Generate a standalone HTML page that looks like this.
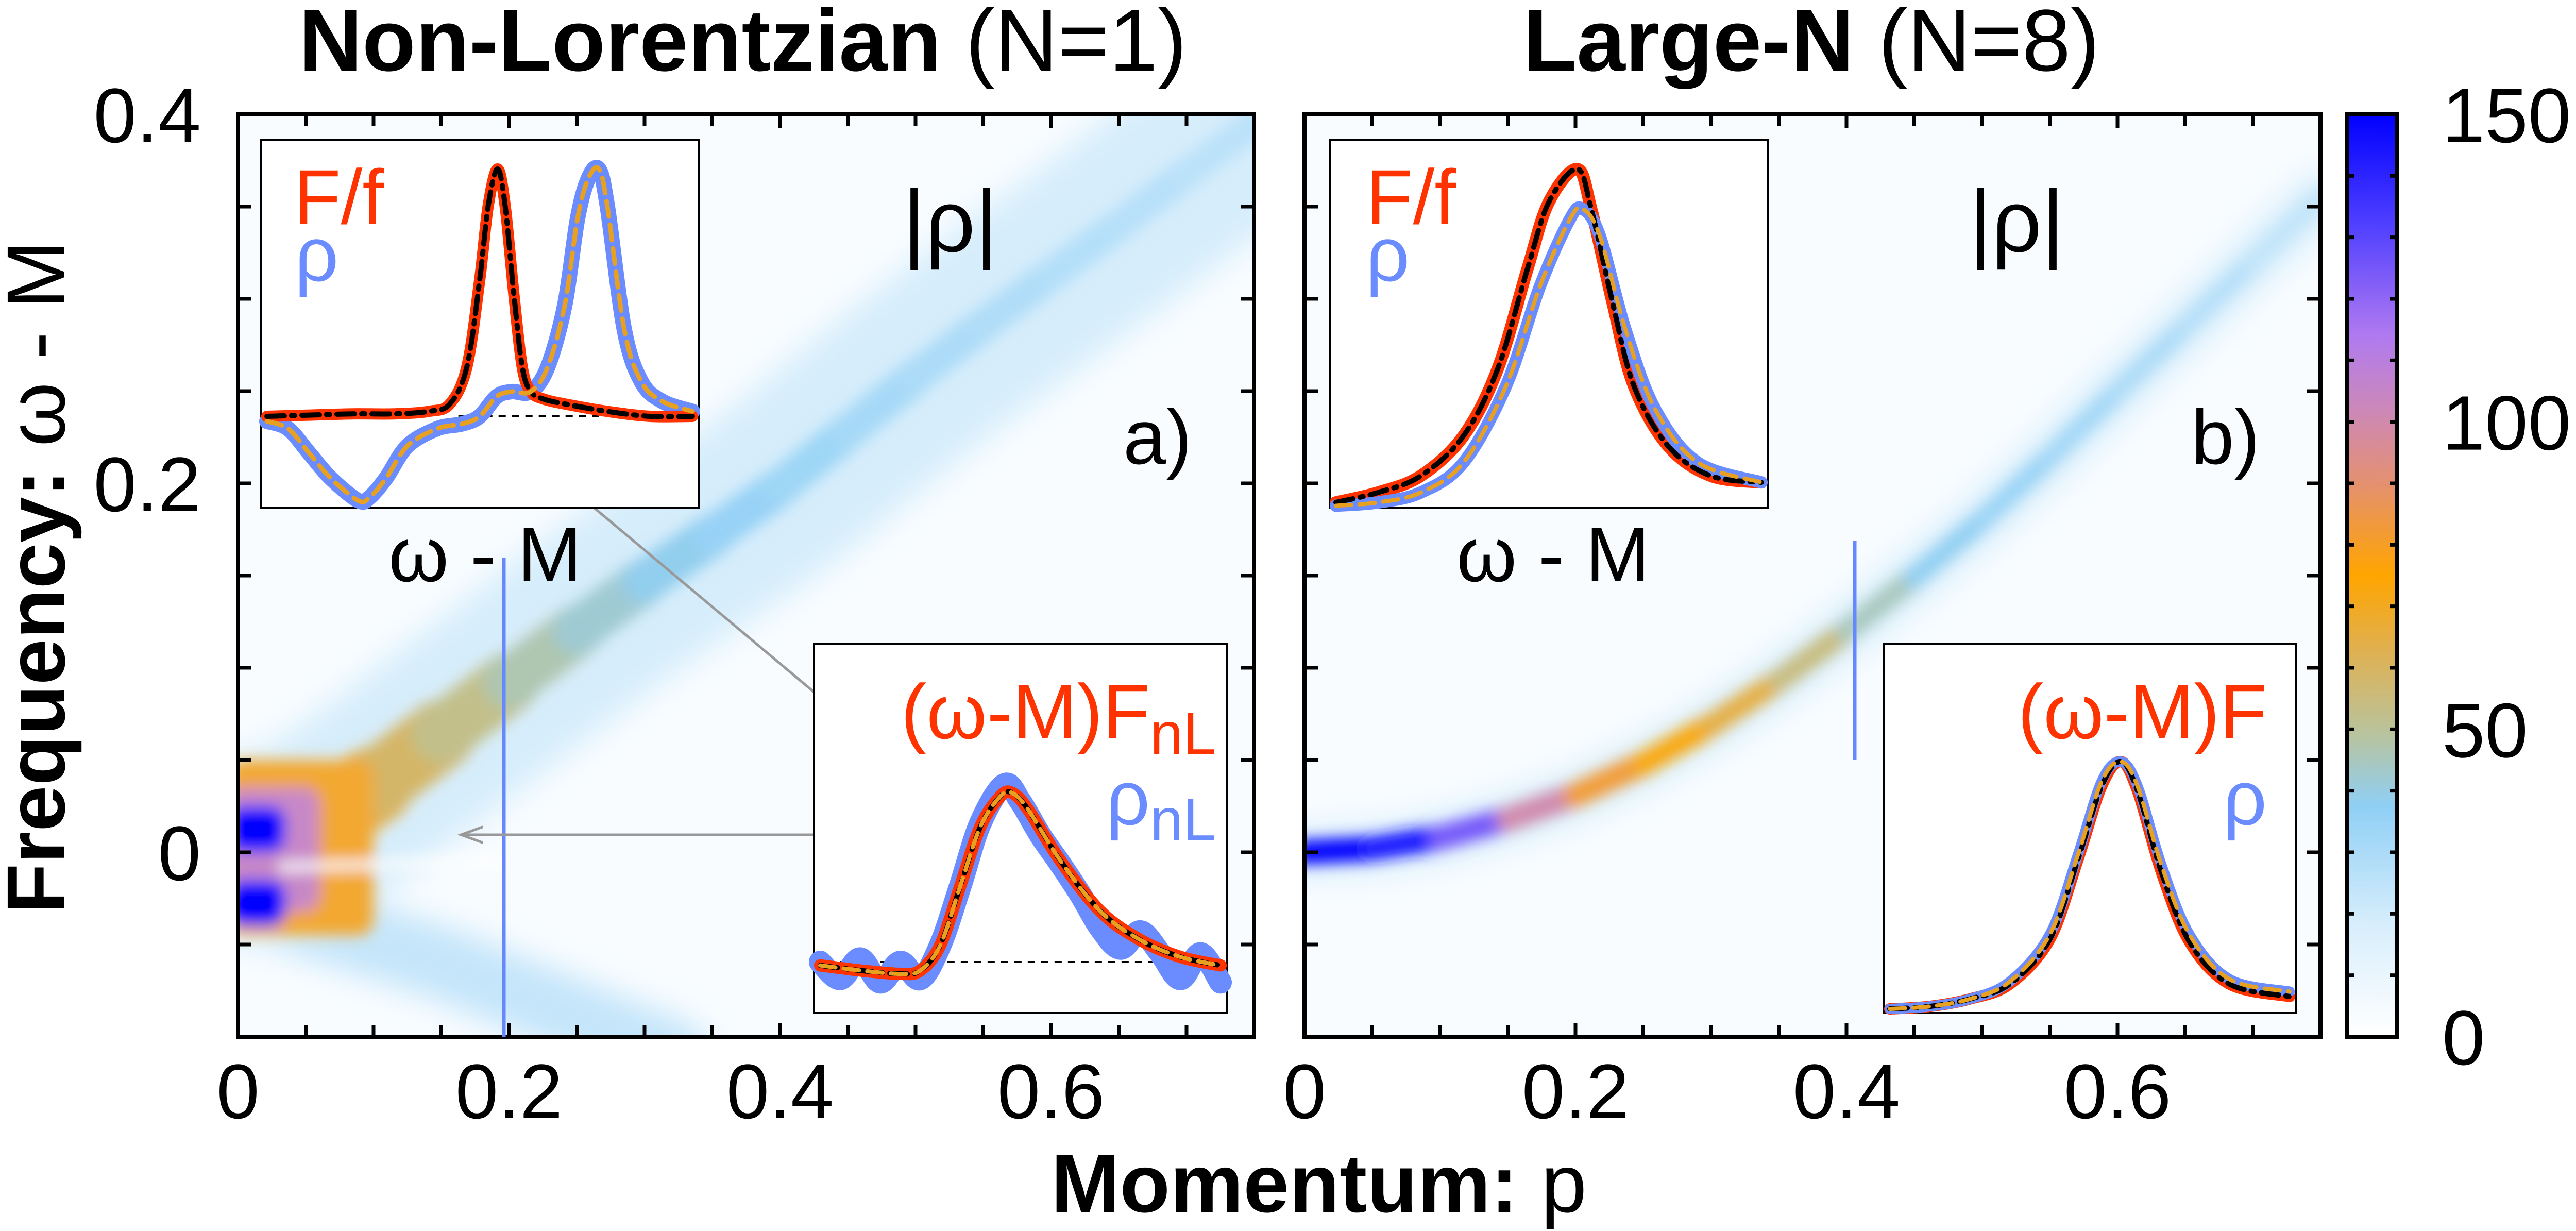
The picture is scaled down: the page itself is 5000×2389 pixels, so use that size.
<!DOCTYPE html>
<html><head><meta charset="utf-8">
<style>
html,body{margin:0;padding:0;background:#fff;}
svg{display:block;font-family:"Liberation Sans",Arial,sans-serif;}
</style></head>
<body>
<svg id="fig" width="5000" height="2389" viewBox="0 0 5000 2389" xmlns="http://www.w3.org/2000/svg">
<defs>
  <filter id="blur" filterUnits="userSpaceOnUse" x="0" y="0" width="5000" height="2389"><feGaussianBlur stdDeviation="14"/></filter>
  <filter id="blur2" filterUnits="userSpaceOnUse" x="0" y="0" width="5000" height="2389"><feGaussianBlur stdDeviation="30"/></filter>
  <clipPath id="clipL"><rect x="462" y="222" width="1972" height="1790"/></clipPath>
  <clipPath id="clipR"><rect x="2532" y="222" width="1972" height="1790"/></clipPath>
  <linearGradient id="cbar" x1="0" y1="1" x2="0" y2="0">
    <stop offset="0" stop-color="#ffffff"/>
    <stop offset="0.12" stop-color="#d8eefc"/>
    <stop offset="0.25" stop-color="#8fcff5"/>
    <stop offset="0.33" stop-color="#b9c39c"/>
    <stop offset="0.42" stop-color="#e0b050"/>
    <stop offset="0.5" stop-color="#ffa500"/>
    <stop offset="0.6" stop-color="#e49070"/>
    <stop offset="0.68" stop-color="#cc88b8"/>
    <stop offset="0.76" stop-color="#b07af0"/>
    <stop offset="0.88" stop-color="#5040ff"/>
    <stop offset="1" stop-color="#0000ff"/>
  </linearGradient>
</defs>
<g id="heatL" clip-path="url(#clipL)"></g>
<g id="heatR" clip-path="url(#clipR)"></g>
<g id="overlay"></g>
<text x="1442" y="137" text-anchor="middle" font-size="170"><tspan font-weight="bold">Non-Lorentzian</tspan> (N=1)</text>
<text x="3516" y="137" text-anchor="middle" font-size="170"><tspan font-weight="bold">Large-N</tspan> (N=8)</text>
<text transform="translate(125,1120) rotate(-90)" text-anchor="middle" font-size="160"><tspan font-weight="bold">Frequency:</tspan>  ω - M</text>
<text x="2560" y="2352" text-anchor="middle" font-size="160"><tspan font-weight="bold">Momentum:</tspan>  p</text>
</svg>
<script>
// ---- data ----
const pGrid = [0,0.05,0.1,0.15,0.2,0.25,0.3,0.35,0.4,0.45,0.5,0.55,0.6,0.65,0.7,0.75];
const dispLeft = [0,0.012,0.036,0.064,0.092,0.12,0.147,0.172,0.198,0.228,0.258,0.286,0.313,0.34,0.368,0.395];
const intLeft = [72,68,62,56,50,44,40,36,34,32,30,29,28,27,26,25];
const widthLeft = [0.05,0.045,0.04,0.034,0.03,0.026,0.024,0.022,0.02,0.02,0.019,0.018,0.018,0.017,0.017,0.016];
const dispRight = [0,0.002,0.008,0.018,0.031,0.048,0.069,0.093,0.12,0.149,0.18,0.214,0.25,0.285,0.32,0.355];
const intRight = [150,150,140,110,90,75,70,60,50,40,35,33,30,28,25,22];
const widthRight = [0.013,0.013,0.013,0.013,0.013,0.013,0.012,0.012,0.012,0.011,0.011,0.011,0.011,0.011,0.011,0.011];
const xTicks = [0,0.2,0.4,0.6];
const xTickLabels = ["0","0.2","0.4","0.6"];
const yTicks = [0.4,0.2,0];
const yTickLabels = ["0.4","0.2","0"];
const cbTicks = [150,100,50,0];
const cbTickLabels = ["150","100","50","0"];
const ffX = [0,0.1,0.2,0.3,0.38,0.43,0.47,0.5,0.52,0.542,0.56,0.58,0.6,0.62,0.65,0.7,0.8,0.9,1];
const ffV = [0,0.005,0.01,0.01,0.02,0.05,0.2,0.55,0.85,1.0,0.85,0.5,0.2,0.1,0.07,0.05,0.02,0,0];
const rhoX = [0,0.05,0.1,0.15,0.214,0.24,0.28,0.33,0.4,0.46,0.5,0.54,0.575,0.62,0.66,0.7,0.73,0.755,0.78,0.8,0.84,0.88,0.93,1];
const rhoV = [-0.02,-0.05,-0.15,-0.25,-0.34,-0.33,-0.25,-0.12,-0.05,-0.03,0,0.08,0.1,0.1,0.2,0.45,0.8,0.96,1.0,0.85,0.35,0.14,0.06,0.02];
const nlX = [0,0.1,0.2,0.25,0.3,0.35,0.4,0.45,0.48,0.52,0.6,0.7,0.8,0.9,1];
const nlFV = [-0.02,-0.05,-0.07,-0.05,0.1,0.45,0.8,0.98,1.0,0.9,0.6,0.3,0.13,0.03,-0.02];
const nlRX = [0,0.05,0.1,0.15,0.2,0.25,0.3,0.35,0.4,0.46,0.5,0.55,0.6,0.65,0.7,0.75,0.8,0.85,0.9,0.95,1];
const nlRV = [0,-0.1,0.02,-0.12,0,-0.1,0.1,0.45,0.82,1.05,0.95,0.75,0.58,0.4,0.2,0.08,0.18,0.05,-0.1,0.05,-0.12];
const lnX = [0,0.1,0.2,0.3,0.38,0.45,0.5,0.567,0.6,0.65,0.7,0.78,0.88,1];
const lnFV = [0,0.03,0.08,0.2,0.4,0.7,0.9,1.0,0.88,0.6,0.35,0.17,0.08,0.06];
const lnRX = [0,0.1,0.2,0.3,0.4,0.48,0.55,0.58,0.62,0.68,0.75,0.85,1];
const lnRV = [-0.01,0,0.03,0.12,0.35,0.65,0.85,0.88,0.8,0.52,0.28,0.12,0.06];
const lbX = [0,0.1,0.2,0.3,0.4,0.47,0.53,0.578,0.62,0.68,0.75,0.85,1];
const lbFV = [0,0.01,0.04,0.1,0.28,0.6,0.9,1,0.88,0.55,0.27,0.1,0.05];
const lbRV = [0,0.01,0.04,0.11,0.3,0.62,0.92,1,0.9,0.58,0.3,0.12,0.07];

const NS = "http://www.w3.org/2000/svg";
const svg = document.getElementById('fig');
const Y0 = 222, Y1 = 2012;
const panels = [{x0:462, g:'heatL'}, {x0:2532, g:'heatR'}];
const PX = 2630;
function sx(panel, p){ return panel.x0 + p*PX; }
function sy(w){ return Y0 + (0.4 - w)*3580; }
function cb(v){ return Y1 - v/150*(Y1-Y0); }
function el(tag, attrs, parent){
  const e = document.createElementNS(NS, tag);
  for (const k in attrs) e.setAttribute(k, attrs[k]);
  (parent||svg).appendChild(e); return e;
}
function smooth(pts){
  let d='M'+pts[0][0]+','+pts[0][1];
  for(let i=0;i<pts.length-1;i++){
    const p0=pts[Math.max(0,i-1)],p1=pts[i],p2=pts[i+1],p3=pts[Math.min(pts.length-1,i+2)];
    const c1=[p1[0]+(p2[0]-p0[0])/6,p1[1]+(p2[1]-p0[1])/6];
    const c2=[p2[0]-(p3[0]-p1[0])/6,p2[1]-(p3[1]-p1[1])/6];
    d+=` C${c1[0]},${c1[1]} ${c2[0]},${c2[1]} ${p2[0]},${p2[1]}`;
  }
  return d;
}
function cmap(v){
  const stops=[[0,[255,255,255]],[18,[216,238,252]],[37,[143,207,245]],[50,[185,195,156]],[63,[224,176,80]],[75,[255,165,0]],[90,[228,144,112]],[102,[204,136,184]],[114,[176,122,240]],[132,[80,64,255]],[150,[0,0,255]]];
  v=Math.max(0,Math.min(150,v));
  for(let i=1;i<stops.length;i++){ if(v<=stops[i][0]){const a=stops[i-1],b=stops[i];const t=(v-a[0])/(b[0]-a[0]);
    return 'rgb('+a[1].map((c,j)=>Math.round(c+(b[1][j]-c)*t)).join(',')+')';}}
  return 'rgb(0,0,255)';
}
const ov = document.getElementById('overlay');

panels.forEach((P)=>{
  const g = document.getElementById(P.g);
  let r = el('rect',{x:P.x0,y:Y0,width:1972,height:1790,fill:'#f8fcff'},g);
  
  
  P.soft = el('g',{filter:'url(#blur2)'},g);
  
  
  P.sharp = el('g',{filter:'url(#blur)'},g);
  
  
});

(function(){
  const P = panels[0];
  let f = el('path',{d:`M${sx(P,0)},${sy(-0.025)} L${sx(P,0.15)},${sy(-0.06)} L${sx(P,0.32)},${sy(-0.11)}`,stroke:'#c4e5fa',
    'stroke-width':140,fill:'none','stroke-linecap':'round'},P.soft);
  
  
})();

function band(P, disp, ints, wid, name){
  const pts = pGrid.map((p,i)=>[sx(P,p),sy(disp[i])]);
  let h = el('path',{d:smooth(pts),stroke:'#d6edfb',fill:'none','stroke-width':wid[0]*3580*2.0,'stroke-linecap':'round'},P.soft);
  
  
  for(let i=0;i<pGrid.length-1;i++){
    const s = el('line',{x1:sx(P,pGrid[i]),y1:sy(disp[i]),x2:sx(P,pGrid[i+1]),y2:sy(disp[i+1]),
      stroke:cmap((ints[i]+ints[i+1])/2),'stroke-width':(wid[i]+wid[i+1])/2*3580,'stroke-linecap':'round'},P.sharp);
    
    
  }
}
band(panels[0], dispLeft, intLeft, widthLeft, 'band-left');
band(panels[1], dispRight, intRight, widthRight, 'band-right');

(function(){
  const P = panels[0];
  const blobs=[[0,0.1,-0.045,0.05,'#f3a830'],[0,0.06,-0.032,0.035,'#c888c8'],[0,0.035,0.0,0.025,'#0000ff'],[0,0.035,-0.04,-0.015,'#0000ff']];
  blobs.forEach(b=>{
    let r=el('rect',{x:sx(P,b[0])-20,y:sy(b[3]),width:sx(P,b[1])-sx(P,b[0])+20,height:sy(b[2])-sy(b[3]),fill:b[4],rx:30},P.sharp);
    
    
  });
  let w=el('path',{d:`M${sx(P,0.03)},${sy(-0.008)} L${sx(P,0.2)},${sy(-0.005)}`,stroke:'#ffffff','stroke-width':16},P.sharp);
  
  
})();

panels.forEach((P,pi)=>{
  let fr = el('rect',{x:P.x0,y:Y0,width:1972,height:Y1-Y0,fill:'none',stroke:'#000','stroke-width':8},ov);
  
  
  for(let k=1;k<15;k++){
    const p=k*0.05, x=sx(P,p), L=(k%4===0)?26:22;
    let t=el('line',{x1:x,y1:Y1,x2:x,y2:Y1-L,stroke:'#000','stroke-width':7},ov);
     
    let t2=el('line',{x1:x,y1:Y0,x2:x,y2:Y0+L,stroke:'#000','stroke-width':7},ov);
     
  }
  for(let k=1;k<10;k++){
    const w=-0.1+k*0.05, y=sy(w);
    let t=el('line',{x1:P.x0,y1:y,x2:P.x0+26,y2:y,stroke:'#000','stroke-width':7},ov);
     
    let t2=el('line',{x1:P.x0+1972,y1:y,x2:P.x0+1946,y2:y,stroke:'#000','stroke-width':7},ov);
     
  }
  xTicks.forEach((v,i)=>{
    let t=el('text',{x:sx(P,v),y:2170,'text-anchor':'middle','font-size':150},ov);
    t.textContent=xTickLabels[i];
     
  });
});
yTicks.forEach((v,i)=>{
  let t=el('text',{x:390,y:sy(v)+54,'text-anchor':'end','font-size':150},ov);
  t.textContent=yTickLabels[i];
   
});

(function(){
  let r=el('rect',{x:4556,y:Y0,width:97,height:Y1-Y0,fill:'url(#cbar)',stroke:'#000','stroke-width':8},ov);
   
  for(let v=10;v<150;v+=10){
    const y=cb(v);
    let a=el('line',{x1:4556,y1:y,x2:4570,y2:y,stroke:'#000','stroke-width':7},ov);
     
    let b=el('line',{x1:4653,y1:y,x2:4639,y2:y,stroke:'#000','stroke-width':7},ov);
     
  }
  cbTicks.forEach((v,i)=>{
    let t=el('text',{x:4740,y:cb(v)+54,'font-size':150},ov);
    t.textContent=cbTickLabels[i];
     
  });
})();

(function(){
  let l1=el('line',{x1:978,y1:1082,x2:978,y2:Y1,stroke:'#6688ff','stroke-width':7},ov);
   
  let l2=el('line',{x1:3600,y1:1049,x2:3600,y2:1475,stroke:'#6688ff','stroke-width':7},ov);
   
  function arrow(x1,y1,x2,y2){
    let a=el('line',{x1:x1,y1:y1,x2:x2,y2:y2,stroke:'#999','stroke-width':5},ov);
     
    const ang=Math.atan2(y1-y2,x1-x2), L=45;
    let h=el('path',{d:`M${x2+L*Math.cos(ang+0.35)},${y2+L*Math.sin(ang+0.35)} L${x2},${y2} L${x2+L*Math.cos(ang-0.35)},${y2+L*Math.sin(ang-0.35)}`,stroke:'#999','stroke-width':5,fill:'none'},ov);
     
  }
  arrow(1741,1478,995,853);
  arrow(1741,1620,895,1620);
})();

function inset(box, curves, name){
  const g=el('g',{},ov);
   
  let bg=el('rect',{x:box.x,y:box.y,width:box.w,height:box.hh,fill:'#fff',stroke:'#000','stroke-width':4},g);
   
  const ix=f=>box.x+12+f*(box.w-24), iy=v=>box.yb-v*box.h;
  if(box.dash){
    let d=el('line',{x1:ix(box.dash[0]),y1:iy(0),x2:ix(box.dash[1]),y2:iy(0),stroke:'#000','stroke-width':4,'stroke-dasharray':'14 12'},g);
     
  }
  curves.forEach(c=>{
    const d=smooth(c.x.map((f,i)=>[ix(f),iy(c.v[i])]));
    let p=el('path',{d:d,fill:'none',stroke:c.color,'stroke-width':c.w,'stroke-linejoin':'round','stroke-linecap':'round'},g);
    if(c.dash) p.setAttribute('stroke-dasharray',c.dash);
     
  });
}
const BLUE='#6a8cff', RED='#ff3300', ORANGE='#e8a020';
inset({x:506,y:271,w:850,hh:715,yb:808,h:480,dash:[0.45,0.78]},[
  {x:rhoX,v:rhoV,color:BLUE,w:30,name:'rho-curve'},
  {x:ffX,v:ffV,color:RED,w:22,name:'F-over-f-curve'},
  {x:ffX,v:ffV,color:'#000',w:10,dash:'34 14 6 14',name:'F-over-f-fit'},
  {x:rhoX,v:rhoV,color:ORANGE,w:9,dash:'30 16',name:'rho-fit'}],'inset-left-top');
inset({x:1580,y:1250,w:801,hh:716,yb:1867,h:328,dash:[0.05,0.98]},[
  {x:nlRX,v:nlRV,color:BLUE,w:44,name:'rho-nL-curve'},
  {x:nlX,v:nlFV,color:RED,w:24,name:'F-nL-curve'},
  {x:nlX,v:nlFV,color:'#000',w:10,dash:'34 14 6 14',name:'F-nL-fit'},
  {x:nlX,v:nlFV,color:ORANGE,w:8,dash:'30 16',name:'rho-nL-fit'}],'inset-left-bottom');
inset({x:2581,y:271,w:850,hh:715,yb:975,h:647},[
  {x:lnX,v:lnFV,color:RED,w:24,name:'F-over-f-curve'},
  {x:lnRX,v:lnRV,color:BLUE,w:24,name:'rho-curve'},
  {x:lnX,v:lnFV,color:'#000',w:10,dash:'34 14 6 14',name:'F-over-f-fit'},
  {x:lnRX,v:lnRV,color:ORANGE,w:8,dash:'30 16',name:'rho-fit'}],'inset-right-top');
inset({x:3656,y:1250,w:800,hh:716,yb:1958,h:480},[
  {x:lbX,v:lbFV,color:RED,w:22,name:'F-curve'},
  {x:lbX,v:lbRV,color:BLUE,w:20,name:'rho-curve'},
  {x:lbX,v:lbFV,color:'#000',w:10,dash:'34 14 6 14',name:'F-fit'},
  {x:lbX,v:lbRV,color:ORANGE,w:8,dash:'30 16',name:'rho-fit'}],'inset-right-bottom');

function txt(x,y,s,opts,name){
  const t=el('text',Object.assign({x:x,y:y,'font-size':150},opts),ov);
  t.innerHTML=s;
   
}
txt(570,434,'F/f',{fill:RED},'legend-F-over-f');
txt(572,545,'ρ',{fill:BLUE},'legend-rho');
txt(2651,434,'F/f',{fill:RED},'legend-F-over-f-right');
txt(2651,545,'ρ',{fill:BLUE},'legend-rho-right');
txt(1752,488,'|ρ|',{'font-size':170},'abs-rho-label-left');
txt(3822,488,'|ρ|',{'font-size':170},'abs-rho-label-right');
txt(2180,900,'a)',{},'panel-label-a');
txt(4253,900,'b)',{},'panel-label-b');
txt(754,1128,'ω - M',{},'inset-x-label-left');
txt(2827,1128,'ω - M',{},'inset-x-label-right');
txt(2360,1433,'(ω-M)F<tspan font-size="115" dy="30">nL</tspan>',{fill:RED,'text-anchor':'end'},'legend-F-nL');
txt(2360,1600,'ρ<tspan font-size="115" dy="30">nL</tspan>',{fill:BLUE,'text-anchor':'end'},'legend-rho-nL');
txt(4400,1433,'(ω-M)F',{fill:RED,'text-anchor':'end'},'legend-F');
txt(4400,1600,'ρ',{fill:BLUE,'text-anchor':'end'},'legend-rho-bottom');
</script>
</body></html>
